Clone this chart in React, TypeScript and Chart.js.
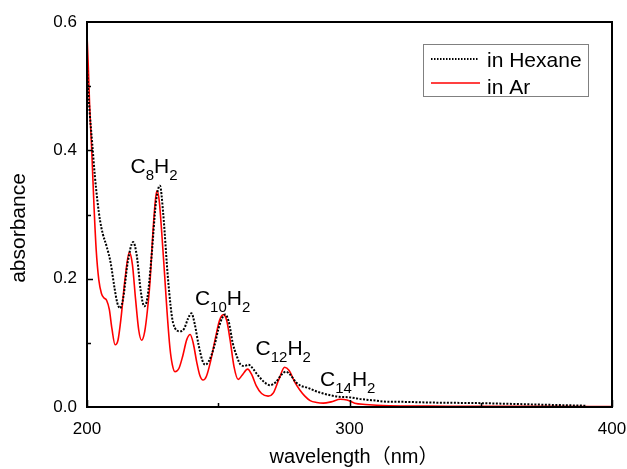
import React, { useEffect, useRef } from "react";
import { Chart, registerables } from "chart.js";

Chart.register(...registerables);

// ---- Data ----
const arWavelength = [
  200, 200.5, 201, 201.8, 202.7, 203.5, 204.5, 205.5, 206.5, 207.5,
  208.5, 209.5, 210.7, 211.8, 213, 214.5, 216.1, 217.3, 218.5, 219.7,
  220.8, 222, 223, 224, 225, 226, 226.6, 227.5, 228.5, 229.5,
  230.5, 231.6, 232.5, 233.5, 235, 236.5, 238, 239.3, 240.5, 241.8,
  243, 244.2, 245.5, 247, 248.8, 250.5, 252, 253.2, 254.5, 256,
  257.6, 259, 261.2, 262.8, 264.5, 266.5, 269, 271, 273, 275.3,
  277, 279, 281, 283, 285, 287.5, 290, 293, 296.5, 299,
  302, 306, 315, 330, 350, 375, 400,
];
const arAbsorbance = [
  0.58, 0.53, 0.47, 0.4, 0.31, 0.245, 0.198, 0.177, 0.17, 0.166,
  0.152, 0.122, 0.097, 0.104, 0.14, 0.2, 0.241, 0.222, 0.168, 0.12,
  0.104, 0.118, 0.15, 0.195, 0.265, 0.32, 0.337, 0.322, 0.27, 0.21,
  0.148, 0.092, 0.066, 0.055, 0.06, 0.08, 0.105, 0.113, 0.099, 0.07,
  0.049, 0.042, 0.048, 0.07, 0.105, 0.135, 0.144, 0.135, 0.105, 0.063,
  0.043, 0.049, 0.059, 0.05, 0.033, 0.021, 0.017, 0.022, 0.042, 0.062,
  0.057, 0.04, 0.027, 0.017, 0.01, 0.007, 0.006, 0.008, 0.012, 0.011,
  0.006, 0.004, 0.002, 0.0015, 0.001, 0.001, 0.0008,
];

const hexWavelength = [
  200, 200.5, 201, 202, 203, 204, 205, 206, 207.5, 209,
  210.5, 211.5, 212.6, 213.8, 215.5, 217.6, 219, 220.5, 221.8, 223,
  224.5, 226.3, 227.8, 229, 230.9, 232.8, 235.4, 237, 238.5, 239.8,
  241, 242.5, 244, 245, 246.5, 248.5, 250.5, 252.6, 254, 255.5,
  257, 258.5, 260, 261.5, 263, 265, 267.5, 269.7, 272, 274,
  275.8, 277.5, 279.5, 281.5, 284, 287, 290, 293, 296, 300,
  305, 310, 315, 320, 330, 340, 350, 360, 370, 380, 390,
];
const hexAbsorbance = [
  0.53, 0.49, 0.46, 0.41, 0.36, 0.32, 0.29, 0.27, 0.25, 0.225,
  0.185, 0.163, 0.154, 0.17, 0.225, 0.257, 0.235, 0.18, 0.157, 0.17,
  0.23, 0.32, 0.345, 0.303, 0.198, 0.131, 0.118, 0.122, 0.138, 0.146,
  0.13, 0.097, 0.072, 0.066, 0.072, 0.095, 0.128, 0.144, 0.133, 0.1,
  0.08, 0.066, 0.064, 0.066, 0.061, 0.05, 0.039, 0.034, 0.039, 0.05,
  0.055, 0.05, 0.039, 0.033, 0.03, 0.025, 0.021, 0.018, 0.016, 0.015,
  0.012, 0.01, 0.008, 0.008, 0.007, 0.0065, 0.006, 0.005, 0.004, 0.003, 0.002,
];

const seriesLabels = ["in Hexane", "in Ar"];

// peak annotations: subscript carbon counts and anchor (left, baseline) in data units
const annoCarbon = ["8", "10", "12", "14"];
const annoWavelength = [216.6, 241.1, 264.2, 288.8];
const annoAbsorbance = [0.364, 0.159, 0.081, 0.032];

const xMajorTicks = [200, 300, 400];
const xMinorTicks = [250, 350];
const yMajorTicks = [0.2, 0.4];
const yMinorTicks = [0.1, 0.3, 0.5];

const FONT = "Arial, 'Liberation Sans', sans-serif";

const decorPlugin = {
  id: "decor",
  afterDatasetsDraw(chart: any) {
    const { ctx, chartArea, scales } = chart;
    const { left, right, top, bottom } = chartArea;
    const x = scales.x;
    const y = scales.y;
    ctx.save();
    // frame
    ctx.strokeStyle = "#000";
    ctx.lineWidth = 2;
    ctx.strokeRect(left, top, right - left, bottom - top);
    // inward ticks
    ctx.lineWidth = 1.5;
    ctx.beginPath();
    yMajorTicks.forEach((v) => {
      const py = Math.round(y.getPixelForValue(v)) + 0.5;
      ctx.moveTo(left, py);
      ctx.lineTo(left + 6, py);
    });
    yMinorTicks.forEach((v) => {
      const py = Math.round(y.getPixelForValue(v)) + 0.5;
      ctx.moveTo(left, py);
      ctx.lineTo(left + 4, py);
    });
    xMajorTicks.forEach((v) => {
      const px = Math.round(x.getPixelForValue(v)) + 0.5;
      ctx.moveTo(px, bottom);
      ctx.lineTo(px, bottom - 7);
    });
    xMinorTicks.forEach((v) => {
      const px = Math.round(x.getPixelForValue(v)) + 0.5;
      ctx.moveTo(px, bottom);
      ctx.lineTo(px, bottom - 4);
    });
    ctx.stroke();

    // annotations C_nH_2
    ctx.fillStyle = "#000";
    ctx.textBaseline = "alphabetic";
    ctx.textAlign = "left";
    annoCarbon.forEach((n, i) => {
      let px = x.getPixelForValue(annoWavelength[i]);
      const py = y.getPixelForValue(annoAbsorbance[i]);
      const parts: [string, boolean][] = [
        ["C", false],
        [n, true],
        ["H", false],
        ["2", true],
      ];
      parts.forEach(([t, sub]) => {
        ctx.font = sub ? `15px ${FONT}` : `21px ${FONT}`;
        ctx.fillText(t, px, sub ? py + 7 : py);
        px += ctx.measureText(t).width;
      });
    });

    // legend
    const lx = 423.5, ly = 44.5, lw = 165, lh = 52;
    ctx.fillStyle = "#fff";
    ctx.fillRect(lx, ly, lw, lh);
    ctx.strokeStyle = "#808080";
    ctx.lineWidth = 1;
    ctx.strokeRect(lx, ly, lw, lh);
    // hexane sample
    ctx.strokeStyle = "#000";
    ctx.lineWidth = 2;
    ctx.setLineDash([1.5, 1.5]);
    ctx.beginPath();
    ctx.moveTo(431, 59);
    ctx.lineTo(478, 59);
    ctx.stroke();
    ctx.setLineDash([]);
    ctx.strokeStyle = "#ff0000";
    ctx.lineWidth = 1.5;
    ctx.beginPath();
    ctx.moveTo(431, 83);
    ctx.lineTo(480, 83);
    ctx.stroke();
    ctx.fillStyle = "#000";
    ctx.font = `21px ${FONT}`;
    ctx.fillText(seriesLabels[0], 487, 67);
    ctx.fillText(seriesLabels[1], 487, 94);

    ctx.restore();
  },
  afterDraw(chart: any) {
    const { ctx } = chart;
    ctx.save();
    ctx.fillStyle = "#000";
    ctx.font = `20px ${FONT}, 'Noto Sans CJK JP'`;
    ctx.textAlign = "center";
    ctx.textBaseline = "alphabetic";
    ctx.fillText("wavelength（nm）", 354, 463);
    ctx.translate(25, 228);
    ctx.rotate(-Math.PI / 2);
    ctx.font = `21px ${FONT}`;
    ctx.fillText("absorbance", 0, 0);
    ctx.restore();
  },
};

export default function App() {
  const ref = useRef<HTMLCanvasElement | null>(null);
  useEffect(() => {
    document.body.style.margin = "0";
    const canvas = ref.current!;
    const hexData = hexWavelength.map((w, i) => ({ x: w, y: hexAbsorbance[i] }));
    const arData = arWavelength.map((w, i) => ({ x: w, y: arAbsorbance[i] }));
    const chart = new Chart(canvas, {
      type: "line",
      data: {
        datasets: [
          {
            label: seriesLabels[0],
            data: hexData,
            borderColor: "#000",
            borderWidth: 2,
            borderDash: [2, 1.5],
            pointRadius: 0,
            cubicInterpolationMode: "monotone",
            fill: false,
            order: 1,
          },
          {
            label: seriesLabels[1],
            data: arData,
            borderColor: "#ff0000",
            borderWidth: 1.6,
            pointRadius: 0,
            cubicInterpolationMode: "monotone",
            fill: false,
            order: 2,
          },
        ],
      },
      options: {
        animation: false,
        responsive: false,
        maintainAspectRatio: false,
        events: [],
        layout: { padding: { left: 0, right: 15, top: 22, bottom: 0 } },
        plugins: { legend: { display: false }, tooltip: { enabled: false } },
        scales: {
          x: {
            type: "linear",
            min: 200,
            max: 400,
            grid: { display: false, drawTicks: false },
            border: { display: false },
            ticks: {
              stepSize: 100,
              padding: 12,
              color: "#000",
              font: { size: 17, family: FONT },
              maxRotation: 0,
            },
            afterFit: (s: any) => {
              s.height = 62;
              s.paddingLeft = 0;
              s.paddingRight = 0;
            },
          },
          y: {
            type: "linear",
            min: 0,
            max: 0.6,
            grid: { display: false, drawTicks: false },
            border: { display: false },
            ticks: {
              stepSize: 0.2,
              padding: 10,
              color: "#000",
              font: { size: 17, family: FONT },
              callback: (v: any) => Number(v).toFixed(1),
            },
            afterFit: (s: any) => {
              s.width = 87;
              s.paddingTop = 0;
              s.paddingBottom = 0;
            },
          },
        },
      },
      plugins: [decorPlugin],
    });
    return () => chart.destroy();
  }, []);
  return <canvas ref={ref} width={627} height={469} style={{ display: "block" }} />;
}
